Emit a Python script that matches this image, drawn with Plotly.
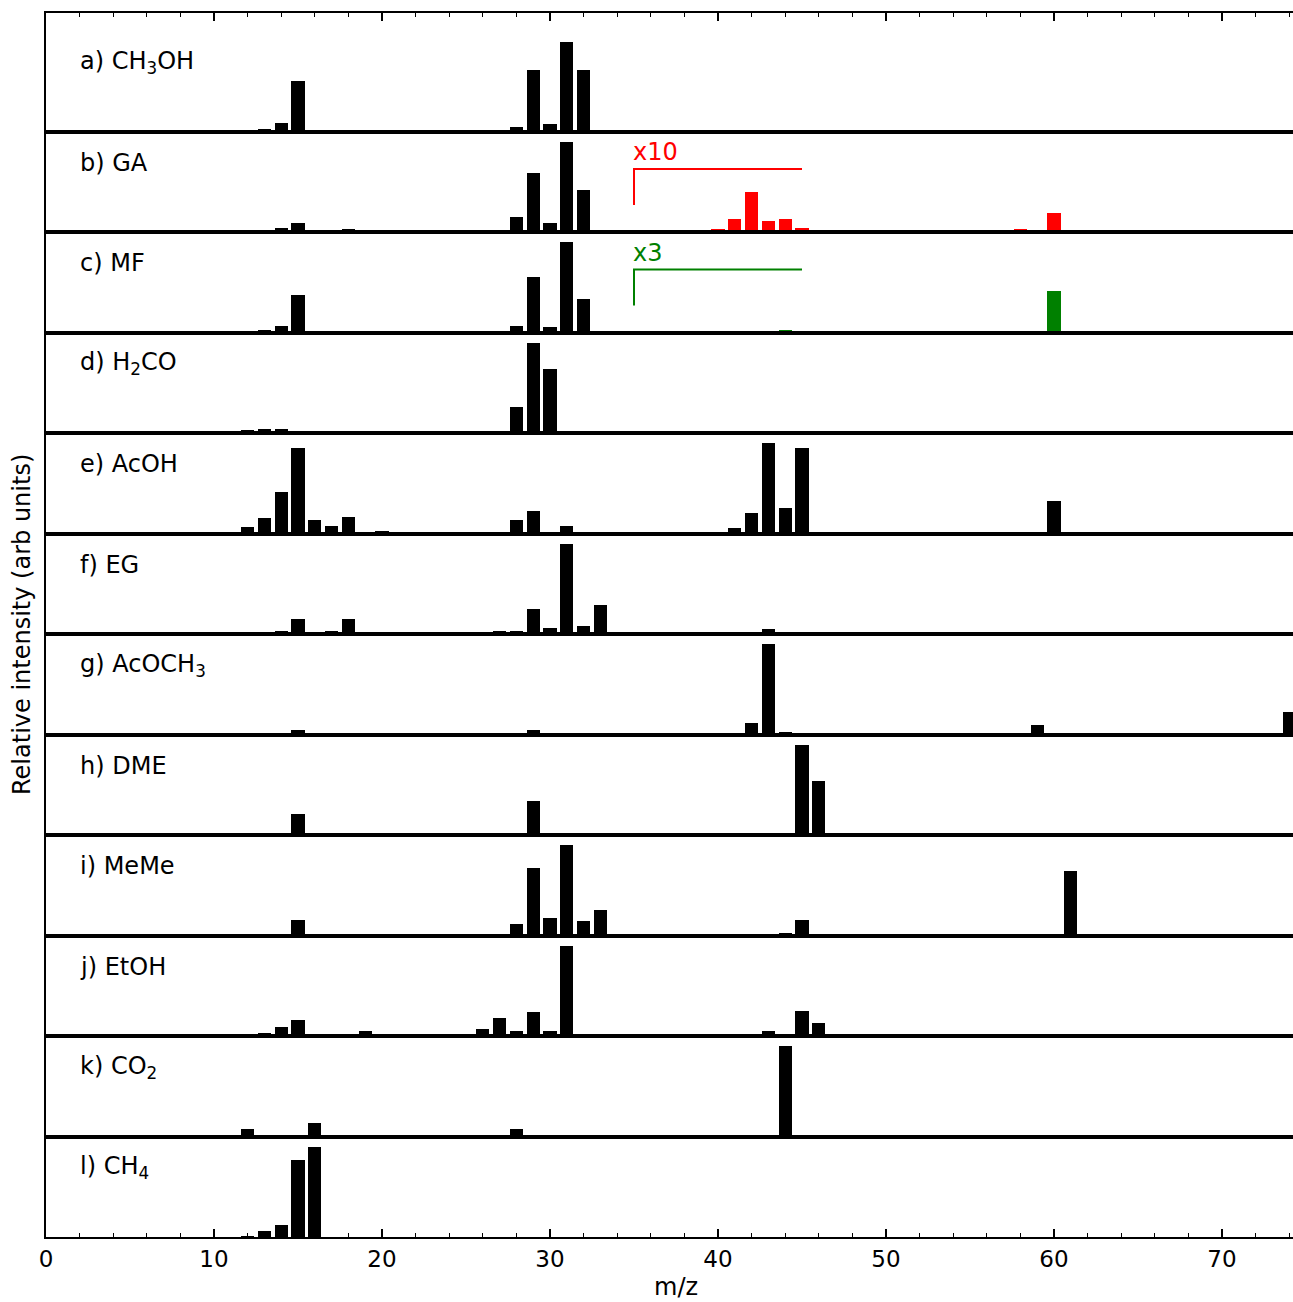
import plotly.graph_objects as go

# ---------------- data (relative intensities, each panel normalised to its max = 100) ----------------
labels = ["a) CH<sub>3</sub>OH", "b) GA", "c) MF", "d) H<sub>2</sub>CO", "e) AcOH", "f) EG",
          "g) AcOCH<sub>3</sub>", "h) DME", "i) MeMe", "j) EtOH", "k) CO<sub>2</sub>", "l) CH<sub>4</sub>"]

a_mz = [12, 13, 14, 15, 17, 18, 28, 29, 30, 31, 32]
a_int = [1, 3, 9, 56, 1, 0.5, 5, 68, 8, 100, 68]

b_mz = [13, 14, 15, 17, 18, 26, 28, 29, 30, 31, 32]
b_int = [1.5, 5, 11, 1.5, 4, 1, 17, 66, 11, 100, 47]
b_x10_mz = [40, 41, 42, 43, 44, 45, 56, 58, 60]
b_x10_int = [0.37, 1.48, 4.49, 1.26, 1.48, 0.52, 0.26, 0.37, 2.14]

c_mz = [12, 13, 14, 15, 28, 29, 30, 31, 32]
c_int = [1.9, 3.3, 7.4, 41.3, 7.4, 61.2, 6.6, 100, 36.5]
c_x3_mz = [44, 60]
c_x3_int = [1.1, 15.1]

d_mz = [12, 13, 14, 16, 28, 29, 30]
d_int = [3.6, 4.7, 4.7, 1, 29.4, 100, 71.3]

e_mz = [12, 13, 14, 15, 16, 17, 18, 19, 20, 28, 29, 31, 32, 41, 42, 43, 44, 45, 46, 60]
e_int = [7.2, 16.8, 45.6, 94.2, 14.9, 8.3, 18.6, 1.6, 2.5, 14.9, 24.4, 8.3, 1.6, 6.2, 22.2, 100, 28.1, 94.2, 2.2, 36.1]

f_mz = [14, 15, 17, 18, 19, 26, 27, 28, 29, 30, 31, 32, 33, 42, 43, 44, 62]
f_int = [4.4, 17.3, 4.4, 17.3, 2.5, 1.4, 4.4, 4.4, 27.6, 7.4, 100, 9.2, 33, 2.5, 6.6, 3, 1.9]

g_mz = [15, 29, 31, 42, 43, 44, 45, 59, 74]
g_int = [5.5, 5.5, 1.5, 12.9, 100, 3, 1.9, 10.7, 25]

h_mz = [14, 15, 29, 31, 45, 46]
h_int = [1.9, 24, 38.4, 3, 100, 60.6]

i_mz = [15, 28, 29, 30, 31, 32, 33, 34, 44, 45, 61, 62]
i_int = [16.6, 13, 74.5, 19.6, 100, 15.5, 28.5, 1.1, 3.3, 16.6, 70.9, 1.9]

j_mz = [13, 14, 15, 19, 25, 26, 27, 28, 29, 30, 31, 42, 43, 44, 45, 46]
j_int = [3.6, 10.2, 18.4, 6.3, 1.9, 8.5, 20.9, 6.6, 27.1, 6.6, 100, 2.2, 5.8, 1.9, 28.2, 15.1]

k_mz = [12, 16, 28, 44]
k_int = [8, 14.7, 8.8, 100]

l_mz = [12, 13, 14, 15, 16]
l_int = [1.8, 7.3, 14, 85.3, 100]

x10_factor = 10
x3_factor = 3
bracket_mz = [35, 45]
x_ticks = [0, 10, 20, 30, 40, 50, 60, 70]

panels = [(a_mz, a_int), (b_mz, b_int), (c_mz, c_int), (d_mz, d_int), (e_mz, e_int), (f_mz, f_int),
          (g_mz, g_int), (h_mz, h_int), (i_mz, i_int), (j_mz, j_int), (k_mz, k_int), (l_mz, l_int)]

# ---------------- layout geometry ----------------
W, H = 1293, 1302
ML, MR, MT, MB = 46, 0, 13, 65
plot_h = H - MT - MB
px_per_unit = 16.8
x_max = (W - ML - MR) / px_per_unit

# panel heights in px: first panel is taller
panel_px = [118.5] + [100.5] * 11
y_top = [131.7] + [110.8] * 11
FONT = "DejaVu Sans"

fig = go.Figure()
layout = dict()
cur = MT
for idx in range(12):
    n = idx + 1
    top_px = cur
    bot_px = cur + panel_px[idx]
    cur = bot_px
    d0 = (H - MB - bot_px) / plot_h
    d1 = (H - MB - top_px) / plot_h
    xs = "xaxis" if n == 1 else f"xaxis{n}"
    ys = "yaxis" if n == 1 else f"yaxis{n}"
    xr = "x" if n == 1 else f"x{n}"
    yr = "y" if n == 1 else f"y{n}"
    xax = dict(domain=[0, 1], anchor=yr, range=[0, x_max], showgrid=False, zeroline=False,
               showline=True, mirror=True, linecolor="black", linewidth=2,
               ticks="", showticklabels=False, fixedrange=True)
    if n == 1:
        xax.update(side="top", ticks="inside", ticklen=8, tickwidth=1.5, tickcolor="black",
                   tickvals=x_ticks,
                   minor=dict(ticks="inside", ticklen=4, tickwidth=1.2, dtick=2, tick0=0, tickcolor="black"))
    if n == 12:
        xax.update(side="bottom", ticks="inside", ticklen=8, tickwidth=1.5, tickcolor="black",
                   tickvals=x_ticks, showticklabels=True,
                   tickfont=dict(family=FONT, size=23, color="black"),
                   minor=dict(ticks="inside", ticklen=4, tickwidth=1.2, dtick=2, tick0=0, tickcolor="black"))
    yax = dict(domain=[d0, d1], anchor=xr, range=[0, y_top[idx]], showgrid=False, zeroline=False,
               showline=True, mirror=False, linecolor="black", linewidth=2,
               ticks="", showticklabels=False, fixedrange=True)
    layout[xs] = xax
    layout[ys] = yax

    mz, inten = panels[idx]
    fig.add_trace(go.Bar(x=mz, y=inten, width=0.78, marker=dict(color="black", line=dict(width=0)),
                         xaxis=xr, yaxis=yr, showlegend=False))

# amplified insets
fig.add_trace(go.Bar(x=b_x10_mz, y=[v * x10_factor for v in b_x10_int], width=0.78,
                     marker=dict(color="#ff0000", line=dict(width=0)), xaxis="x2", yaxis="y2", showlegend=False))
fig.add_trace(go.Bar(x=c_x3_mz, y=[v * x3_factor for v in c_x3_int], width=0.78,
                     marker=dict(color="#008000", line=dict(width=0)), xaxis="x3", yaxis="y3", showlegend=False))

annotations = []
for idx in range(12):
    n = idx + 1
    yr = "y" if n == 1 else f"y{n}"
    xr = "x" if n == 1 else f"x{n}"
    yv = 69.5 / panel_px[idx] * y_top[idx]
    annotations.append(dict(x=(78 - ML) / px_per_unit, y=yv, xref=xr, yref=yr, text=labels[idx],
                            showarrow=False, xanchor="left", yanchor="middle",
                            font=dict(family=FONT, size=24, color="black")))

shapes = []
for (n, color, txt) in [(2, "#ff0000", "x10"), (3, "#008000", "x3")]:
    yr = f"y{n}"
    xr = f"x{n}"
    sc = y_top[n - 1] / panel_px[n - 1]
    y_hi = 63 * sc
    y_lo = 27 * sc
    shapes.append(dict(type="path", xref=xr, yref=yr,
                       path=f"M {bracket_mz[0]},{y_lo} L {bracket_mz[0]},{y_hi} L {bracket_mz[1]},{y_hi}",
                       line=dict(color=color, width=2)))
    annotations.append(dict(x=bracket_mz[0], y=80 * sc, xref=xr, yref=yr, text=txt, showarrow=False,
                            xanchor="left", yanchor="middle", xshift=-3,
                            font=dict(family=FONT, size=24, color=color)))

annotations.append(dict(x=(676 - ML) / (W - ML - MR), y=0, xref="paper", yref="paper", text="m/z",
                        showarrow=False, xanchor="center", yanchor="middle", yshift=-(1287 - (H - MB)),
                        font=dict(family=FONT, size=24, color="black")))
annotations.append(dict(x=0, y=0.5, xref="paper", yref="paper", text="Relative intensity (arb units)",
                        showarrow=False, xanchor="center", yanchor="middle", xshift=-(ML - 22), textangle=-90,
                        font=dict(family=FONT, size=24, color="black")))

fig.update_layout(width=W, height=H, margin=dict(l=ML, r=MR, t=MT, b=MB, pad=0),
                  paper_bgcolor="white", plot_bgcolor="white", bargap=0,
                  annotations=annotations, shapes=shapes,
                  font=dict(family=FONT, color="black"), **layout)

fig.write_html("out.html", include_plotlyjs=True, config=dict(displayModeBar=False))
